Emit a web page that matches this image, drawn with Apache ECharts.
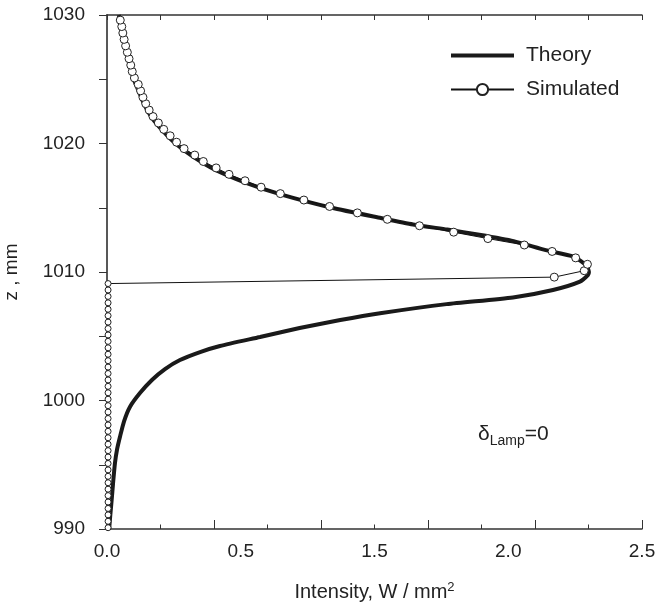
<!DOCTYPE html>
<html>
<head>
<meta charset="utf-8">
<script src="https://cdn.jsdelivr.net/npm/echarts@6/dist/echarts.min.js"></script>
<style>
html,body{margin:0;padding:0;background:#fff;}
#c{width:660px;height:610px;}
</style>
</head>
<body>
<div id="c"></div>
<script>
// Theory curve: z (mm) and intensity (W/mm^2)
const theoryZ = [990, 991, 992.3, 993.5, 995.1, 996.2, 997.2, 998.4, 999.5, 1000.58, 1001.6, 1002.45, 1003.15, 1003.77, 1004.24, 1004.94, 1005.64, 1006.26, 1006.79, 1007.5, 1008.02, 1008.6, 1009.25, 1009.77, 1010.0,
  1010.5, 1011.2, 1011.7, 1012.4, 1012.9, 1013.3, 1013.7, 1014.2, 1015, 1016, 1017, 1018, 1019, 1020, 1021, 1022, 1023, 1024, 1025, 1026, 1027, 1028, 1029, 1030];
const theoryX = [0.010, 0.015, 0.022, 0.028, 0.037, 0.047, 0.061, 0.080, 0.107, 0.154, 0.21, 0.271, 0.341, 0.435, 0.528, 0.715, 0.90, 1.09, 1.276, 1.587, 1.897, 2.084, 2.21, 2.248, 2.252,
  2.24, 2.18, 2.05, 1.90, 1.74, 1.59, 1.43, 1.28, 1.05, 0.82, 0.64, 0.50, 0.40, 0.32, 0.26, 0.21, 0.175, 0.15, 0.125, 0.108, 0.093, 0.08, 0.068, 0.055];

// Simulated points
const simZ = [990.1, 990.6, 991.1, 991.6, 992.1, 992.6, 993.1, 993.6, 994.1, 994.6, 995.1, 995.6, 996.1, 996.6, 997.1, 997.6, 998.1, 998.6, 999.1, 999.6,
  1000.1, 1000.6, 1001.1, 1001.6, 1002.1, 1002.6, 1003.1, 1003.6, 1004.1, 1004.6, 1005.1, 1005.6, 1006.1, 1006.6, 1007.1, 1007.6, 1008.1, 1008.6, 1009.1,
  1009.6, 1010.1, 1010.6, 1011.1, 1011.6, 1012.1, 1012.6, 1013.1, 1013.6, 1014.1, 1014.6, 1015.1, 1015.6, 1016.1, 1016.6, 1017.1, 1017.6, 1018.1, 1018.6, 1019.1, 1019.6,
  1020.1, 1020.6, 1021.1, 1021.6, 1022.1, 1022.6, 1023.1, 1023.6, 1024.1, 1024.6, 1025.1, 1025.6, 1026.1, 1026.6, 1027.1, 1027.6, 1028.1, 1028.6, 1029.1, 1029.6];
const simX = [0.005, 0.005, 0.005, 0.005, 0.005, 0.005, 0.005, 0.005, 0.005, 0.005, 0.005, 0.005, 0.005, 0.005, 0.005, 0.005, 0.005, 0.005, 0.005, 0.005,
  0.005, 0.005, 0.005, 0.005, 0.005, 0.005, 0.005, 0.005, 0.005, 0.005, 0.005, 0.005, 0.005, 0.005, 0.005, 0.005, 0.005, 0.005, 0.005,
  2.09, 2.23, 2.245, 2.19, 2.08, 1.95, 1.78, 1.62, 1.46, 1.31, 1.17, 1.04, 0.92, 0.81, 0.72, 0.645, 0.57, 0.51, 0.45, 0.41, 0.36,
  0.325, 0.295, 0.265, 0.24, 0.215, 0.197, 0.181, 0.168, 0.157, 0.146, 0.128, 0.118, 0.111, 0.103, 0.095, 0.087, 0.08, 0.074, 0.069, 0.062];

// Tick labels as printed on the bottom axis (evenly spaced)
const xTickLabels = ['0.0', '0.5', '1.5', '2.0', '2.5'];

const theoryData = theoryZ.map((z, i) => [theoryX[i], z]);
const simData = simZ.map((z, i) => [simX[i], z]);

const FONT = 'Liberation Sans, Arial, sans-serif';
const TXT = '#222';
const AX = '#333';

const chart = echarts.init(document.getElementById('c'), null, {renderer: 'canvas'});
chart.setOption({
  animation: false,
  backgroundColor: '#fff',
  grid: {left: 107, top: 15, width: 535, height: 514, containLabel: false, outerBoundsMode: 'none'},
  legend: {
    orient: 'vertical', left: 445, top: 40, itemWidth: 63, itemHeight: 14, itemGap: 13,
    textStyle: {fontFamily: FONT, fontSize: 21, color: TXT, padding: [0, 0, 0, 7]},
    data: [
      {name: 'Theory', icon: 'path://M0 0H63V4H0Z', itemStyle: {color: '#1a1a1a'}, lineStyle: {width: 4, color: '#1a1a1a'}},
      {name: 'Simulated'}
    ]
  },
  xAxis: [
    {
      type: 'value', min: 0, max: 2.5, interval: 0.5, position: 'bottom',
      name: 'Intensity, W / mm{sup|2}', nameLocation: 'middle', nameGap: 52,
      nameTextStyle: {fontFamily: FONT, fontSize: 20, color: TXT,
        rich: {sup: {fontFamily: FONT, fontSize: 13, color: TXT, padding: [0, 0, 10, 0]}}},
      axisLine: {show: true, lineStyle: {color: AX, width: 1.5}},
      axisTick: {show: true, inside: true, length: 9, lineStyle: {color: AX, width: 1}},
      minorTick: {show: true, splitNumber: 2, length: 4.5, lineStyle: {color: AX, width: 1}},
      axisLabel: {show: false}, splitLine: {show: false}
    },
    {
      type: 'value', min: 0, max: 4, interval: 1, position: 'bottom',
      axisLine: {show: false}, axisTick: {show: false}, splitLine: {show: false},
      axisLabel: {show: true, margin: 13, fontFamily: FONT, fontSize: 19, color: TXT,
        formatter: v => xTickLabels[Math.round(v)]}
    },
    {
      type: 'value', min: 0, max: 2.5, interval: 0.25, position: 'top',
      axisLine: {show: true, lineStyle: {color: AX, width: 1.5}},
      axisTick: {show: true, inside: true, length: 5, lineStyle: {color: AX, width: 1}},
      axisLabel: {show: false}, splitLine: {show: false}
    }
  ],
  yAxis: [
    {
      type: 'value', min: 990, max: 1030, interval: 10, position: 'left',
      name: 'z , mm', nameLocation: 'middle', nameGap: 86, nameRotate: 90,
      nameTextStyle: {fontFamily: FONT, fontSize: 19, color: TXT},
      axisLine: {show: true, lineStyle: {color: AX, width: 1.5}},
      axisTick: {show: true, inside: false, length: 8, lineStyle: {color: AX, width: 1}},
      minorTick: {show: true, splitNumber: 2, length: 8, lineStyle: {color: AX, width: 1}},
      axisLabel: {show: true, margin: 22, fontFamily: FONT, fontSize: 19, color: TXT,
        formatter: v => String(v)},
      splitLine: {show: false}
    },
    {
      type: 'value', min: 990, max: 1030, interval: 5, position: 'right',
      axisLine: {show: true, lineStyle: {color: '#555', width: 1.5}},
      axisTick: {show: true, inside: true, length: 6, lineStyle: {color: AX, width: 1}},
      axisLabel: {show: false}, splitLine: {show: false}
    }
  ],
  graphic: [
    {
      type: 'text', left: 478, top: 424,
      style: {
        text: '{d|δ}{s|Lamp}{d|=0}',
        rich: {
          d: {fontFamily: FONT, fontSize: 21, fill: TXT, color: TXT},
          s: {fontFamily: FONT, fontSize: 14, fill: TXT, color: TXT, padding: [13, 0, 0, 0]}
        }
      }
    }
  ],
  series: [
    {
      name: 'Theory', type: 'line', xAxisIndex: 0, yAxisIndex: 0,
      data: theoryData, smooth: 0.2, symbol: 'none', showSymbol: false,
      lineStyle: {color: '#1a1a1a', width: 4}, itemStyle: {color: '#1a1a1a'}, z: 2
    },
    {
      name: 'Simulated', type: 'line', xAxisIndex: 0, yAxisIndex: 0,
      data: simData, symbol: 'circle',
      symbolSize: v => (v[0] < 0.02 ? 6 : 8),
      lineStyle: {color: '#111', width: 1},
      itemStyle: {color: '#fff', borderColor: '#222', borderWidth: 1},
      z: 3
    }
  ]
});
</script>
</body>
</html>
